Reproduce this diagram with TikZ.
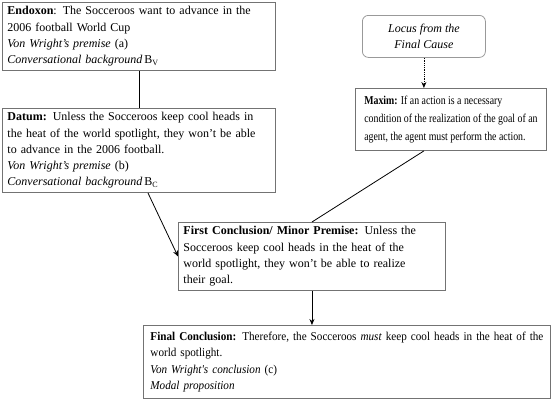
\documentclass[tikz,border=0pt]{standalone}
\usepackage{fontspec}
\setmainfont{Liberation Serif}
\newfontfamily\maximfont{Liberation Serif}[FakeStretch=0.82]
\newfontfamily\finalfont{Liberation Serif}[FakeStretch=0.93]
\usetikzlibrary{arrows.meta}
\tikzset{
  argbox/.style={draw=black!55, line width=0.9pt, rectangle, anchor=north west,
    inner sep=0pt, align=left, font=\fontsize{12}{16.3}\selectfont},
  locusbox/.style={draw=black!40, line width=0.8pt, rounded corners=6pt,
    anchor=north west, inner sep=0pt, align=center, font=\fontsize{12}{16.3}\selectfont\itshape},
  link/.style={line width=0.8pt, black},
  linkarrow/.style={link, -{Stealth[length=6pt,width=5pt]}},
}
\begin{document}
\begin{tikzpicture}[x=1pt,y=-1pt]
\useasboundingbox (0,0) rectangle (553,400);

% Drawing box Endoxon
\node [argbox, minimum width=273, minimum height=68, text width=263] (endoxon) at (2,2)
  {\textbf{Endoxon}: The Socceroos want to advance in the\\
   2006 football World Cup\\
   \textit{Von Wright's premise} (a)\\
   \textit{Conversational background}\,B\textsubscript{V}};

% Drawing box Datum
\node [argbox, minimum width=273, minimum height=84, text width=263] (datum) at (2,108)
  {\textbf{Datum:} Unless the Socceroos keep cool heads in\\
   the heat of the world spotlight, they won't be able\\
   to advance in the 2006 football.\\
   \textit{Von Wright's premise} (b)\\
   \textit{Conversational background}\,B\textsubscript{C}};

% Drawing box Locus
\node [locusbox, minimum width=123, minimum height=42] (locus) at (362,15)
  {Locus from the\\ Final Cause};

% Drawing box Maxim
\node [argbox, font=\maximfont\fontsize{12}{18}\selectfont, minimum width=191, minimum height=62] (maxim) at (355,88)
  {\textbf{Maxim:} If an action is a necessary\\
   condition of the realization of the goal of an\\
   agent, the agent must perform the action.};

% Drawing box First Conclusion
\node [argbox, minimum width=267, minimum height=68, text width=257] (firstconcl) at (178,222)
  {\textbf{First Conclusion/ Minor Premise:} Unless the\\
   Socceroos keep cool heads in the heat of the\\
   world spotlight, they won't be able to realize\\
   their goal.};

% Drawing box Final Conclusion
\node [argbox, font=\finalfont\fontsize{12}{16.3}\selectfont, minimum width=407, minimum height=73, text width=393] (finalconcl) at (143,325)
  {\textbf{Final Conclusion:} Therefore, the Socceroos \textit{must} keep cool heads in the heat of the\\
   world spotlight.\\
   \textit{Von Wright's conclusion} (c)\\
   \textit{Modal proposition}};

% Drawing connectors
\draw [link] (endoxon.south) -- (datum.north);
\draw [linkarrow] ([xshift=9pt]datum.south) -- (firstconcl.west);
\draw [linkarrow, densely dotted] (locus.south) -- (locus.south |- maxim.north);
\draw [link] (maxim.south -| locus.south) -- (firstconcl.north);
\draw [linkarrow] (firstconcl.south) -- (firstconcl.south |- finalconcl.north);
\end{tikzpicture}
\end{document}
